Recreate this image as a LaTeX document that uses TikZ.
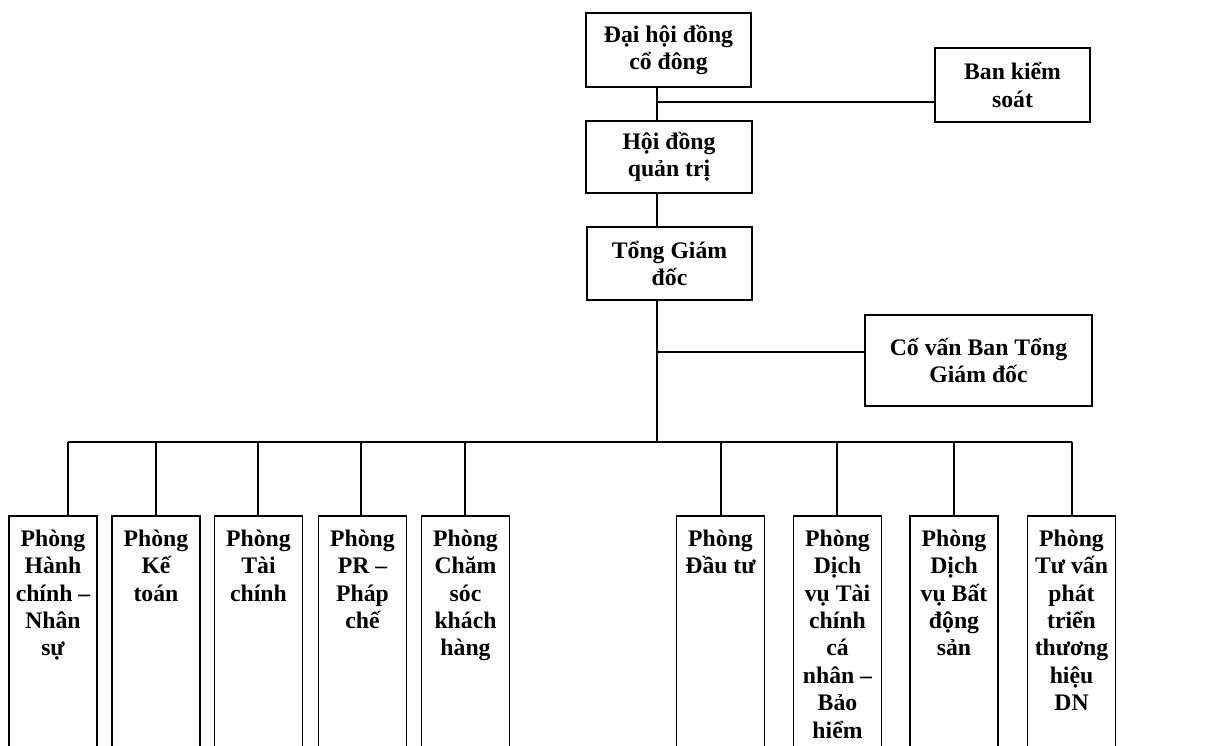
\documentclass[tikz,border=0pt]{standalone}
\usepackage{fontspec}
\setmainfont{Liberation Serif}
\tikzset{
  box/.style={draw, line width=0.9pt, align=center, inner sep=2pt,
    font=\bfseries\fontsize{13.5}{15.6}\selectfont},
  dept/.style={box, anchor=north, minimum width=1.76cm, inner ysep=8pt, text depth=6cm},
  link/.style={line width=0.9pt}
}

\begin{document}
\begin{tikzpicture}[x=0.02cm, y=-0.02cm]
  \path[use as bounding box, clip] (0,0) rectangle (1224,745);
  \node[box, minimum width=3.3cm, minimum height=1.48cm] (dhd) at (668.5,50) {Đại hội đồng\\cổ đông};
  \node[box, minimum width=3.1cm, minimum height=1.48cm] (bks) at (1012.5,85) {Ban kiểm\\soát};
  \node[box, minimum width=3.32cm, minimum height=1.44cm] (hdqt) at (669,157) {Hội đồng\\quản trị};
  \node[box, minimum width=3.3cm, minimum height=1.46cm] (tgd) at (669.5,263.5) {Tổng Giám\\đốc};
  \node[box, minimum width=4.54cm, minimum height=1.82cm] (cv) at (978.5,360.5) {Cố vấn Ban Tổng\\Giám đốc};
  \coordinate (sp) at (657,0);
  \coordinate (j1) at (657,102);
  \coordinate (j2) at (657,352);
  \coordinate (bus) at (657,442);
  \draw[link] (dhd.south -| sp) -- (hdqt.north -| sp);
  \draw[link] (j1) -- (j1 -| bks.west);
  \draw[link] (hdqt.south -| sp) -- (tgd.north -| sp);
  \draw[link] (tgd.south -| sp) -- (bus);
  \draw[link] (j2) -- (j2 -| cv.west);
  \foreach \n/\cx/\dx/\txt in {
      hc/53/68/{Phòng\\Hành\\chính –\\Nhân\\sự},
      kt/156/156/{Phòng\\Kế\\toán},
      tc/258.5/258/{Phòng\\Tài\\chính},
      pr/362.5/361/{Phòng\\PR –\\Pháp\\chế},
      cs/465.5/465/{Phòng\\Chăm\\sóc\\khách\\hàng},
      dt/720.5/721/{Phòng\\Đầu tư},
      dvtc/837.5/837/{Phòng\\Dịch\\vụ Tài\\chính\\cá\\nhân –\\Bảo\\hiểm},
      bds/954/954/{Phòng\\Dịch\\vụ Bất\\động\\sản},
      th/1071.5/1072/{Phòng\\Tư vấn\\phát\\triển\\thương\\hiệu\\DN}}
  {
    \node[dept] (\n) at (\cx,515) {\txt};
    \coordinate (d\n) at (\dx,442);
    \draw[link] (d\n) -- (d\n |- \n.north);
  }
  \draw[link] (dhc) -- (dth);
\end{tikzpicture}
\end{document}
